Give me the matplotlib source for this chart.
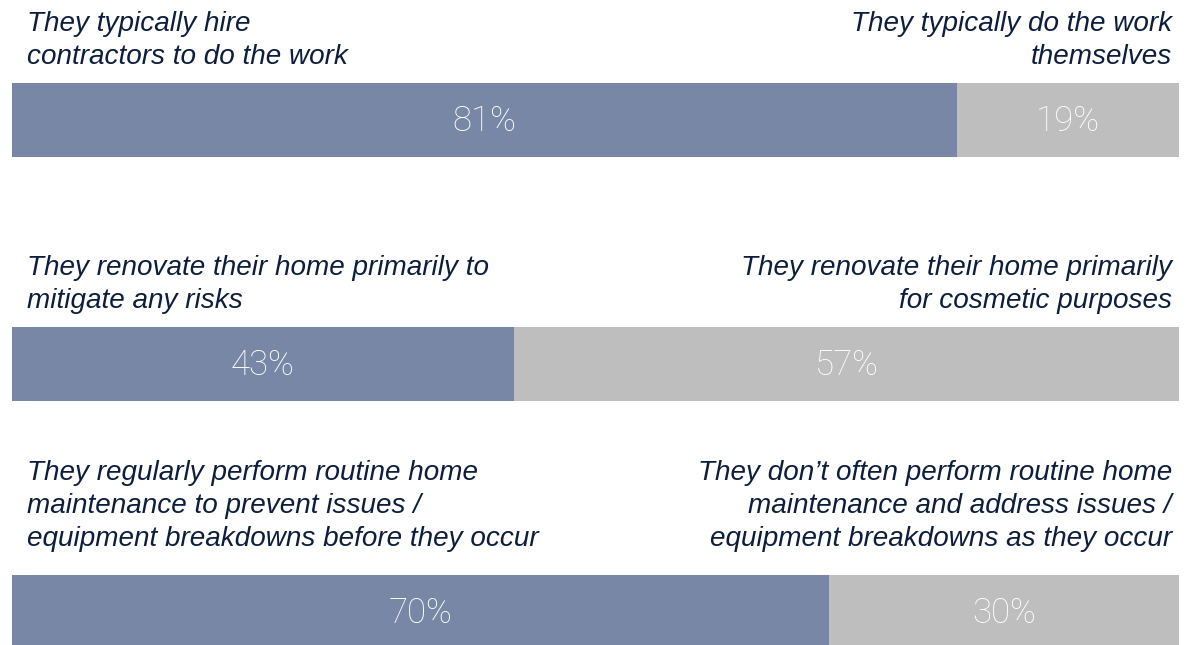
import matplotlib
matplotlib.use("Agg")
import matplotlib.pyplot as plt

# Share of respondents choosing each side of three either/or statements
left_labels = [
    "They typically hire\ncontractors to do the work",
    "They renovate their home primarily to\nmitigate any risks",
    "They regularly perform routine home\nmaintenance to prevent issues /\nequipment breakdowns before they occur",
]
right_labels = [
    "They typically do the work\nthemselves",
    "They renovate their home primarily\nfor cosmetic purposes",
    "They don\u2019t often perform routine home\nmaintenance and address issues /\nequipment breakdowns as they occur",
]
left_pct = [81, 43, 70]
right_pct = [19, 57, 30]

BLUE = "#7887A6"
GREY = "#BEBEBE"
NAVY = "#0D1E3D"

W, H = 1199, 645
fig = plt.figure(figsize=(W / 100, H / 100), dpi=100)
fig.patch.set_facecolor("white")

# axes spans the bar width; y is in pixel rows from the top
ax = fig.add_axes([12 / W, 0, 1167 / W, 1])
ax.set_xlim(0, 100)
ax.set_ylim(H, 0)
ax.axis("off")

bar_tops = [83, 327, 575]
bar_h = 74
label_base = [64, 308, 546]  # baseline of the last caption line

x_left = (27 - 12) / 1167 * 100
x_right = (1172 - 12) / 1167 * 100

pct_style = dict(ha="center", va="center", color="white", fontsize=25,
                 family="Roboto", fontweight="light")
cap_style = dict(va="baseline", color=NAVY, fontsize=20.1, style="italic",
                 family="Liberation Sans", linespacing=1.36)

for i in range(3):
    yc = bar_tops[i] + bar_h / 2
    ax.barh(yc, left_pct[i], height=bar_h, color=BLUE, lw=0)
    ax.barh(yc, right_pct[i], left=left_pct[i], height=bar_h, color=GREY, lw=0)

    ax.text(left_pct[i] / 2, yc + 1.5, f"{left_pct[i]}%", **pct_style)
    ax.text(left_pct[i] + right_pct[i] / 2, yc + 1.5, f"{right_pct[i]}%",
            **pct_style)

    ax.text(x_left, label_base[i], left_labels[i], ha="left", ma="left",
            **cap_style)
    ax.text(x_right, label_base[i], right_labels[i], ha="right", ma="right",
            **cap_style)

fig.savefig("out.png", dpi=100, facecolor="white")
